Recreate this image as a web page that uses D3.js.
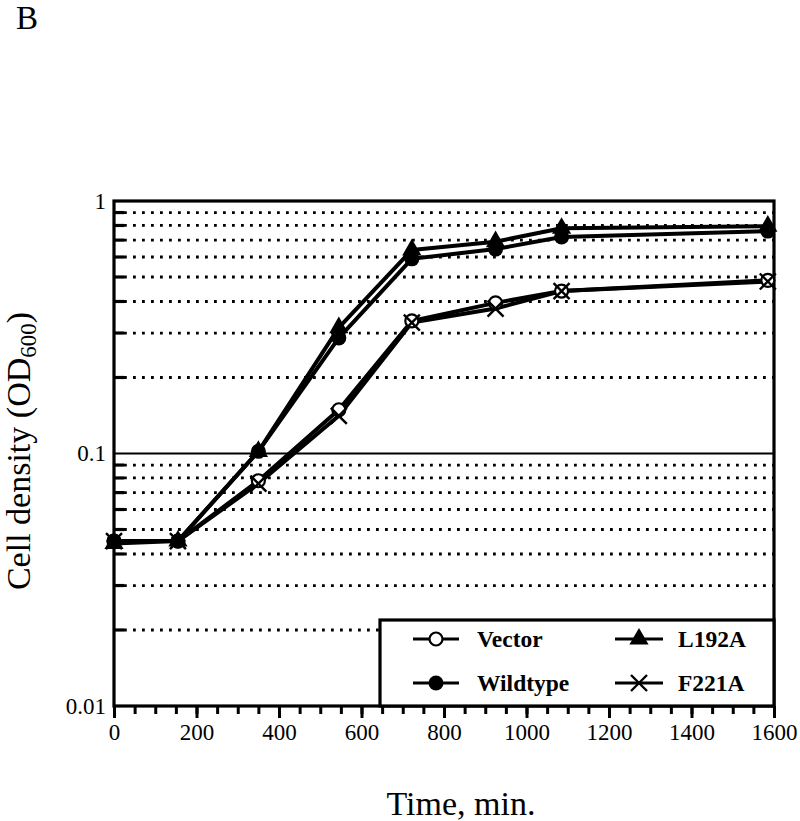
<!DOCTYPE html>
<html>
<head>
<meta charset="utf-8">
<script src="https://cdn.jsdelivr.net/npm/d3@7"></script>
<style>
  html, body { margin: 0; padding: 0; background: #fff; }
  svg { display: block; }
  text { font-family: "Liberation Serif", "Times New Roman", serif; fill: #000; }
</style>
</head>
<body>
<svg id="chart" width="800" height="821"></svg>
<script>
// ---- data ----
const times = [0, 155, 350, 545, 722, 925, 1085, 1585];
const vector   = [0.045, 0.045, 0.078, 0.149, 0.335, 0.395, 0.440, 0.485];
const wildtype = [0.045, 0.045, 0.102, 0.287, 0.590, 0.645, 0.720, 0.760];
const l192a    = [0.044, 0.045, 0.102, 0.315, 0.640, 0.690, 0.780, 0.795];
const f221a    = [0.045, 0.045, 0.076, 0.141, 0.330, 0.375, 0.440, 0.480];
const seriesNames = ["Vector", "Wildtype", "L192A", "F221A"];
const xTickLabels = [0, 200, 400, 600, 800, 1000, 1200, 1400, 1600];
const yTickLabels = [0.01, 0.1, 1];
const yGridValues = [0.02,0.03,0.04,0.05,0.06,0.07,0.08,0.09,0.2,0.3,0.4,0.5,0.6,0.7,0.8,0.9];

const svg = d3.select("#chart");
const X0 = 114, X1 = 774, Y0 = 706, Y1 = 201;
const x = d3.scaleLinear().domain([0, 1600]).range([X0, X1]);
const y = d3.scaleLog().domain([0.01, 1]).range([Y0, Y1]);

// panel label
svg.append("text").attr("x", 16).attr("y", 29).attr("font-size", 33).text("B");

// gridlines
const grid = svg.append("g");
grid.selectAll("line.dot").data(yGridValues).join("line")
  .attr("x1", X0 + 10).attr("x2", X1).attr("y1", d => y(d)).attr("y2", d => y(d))
  .attr("stroke", "#000").attr("stroke-width", 2.8).attr("stroke-dasharray", "2.8,6.2");
grid.selectAll("line.tk").data(yGridValues).join("line")
  .attr("x1", X0).attr("x2", X0 + 10).attr("y1", d => y(d)).attr("y2", d => y(d))
  .attr("stroke", "#000").attr("stroke-width", 3.2);
// solid at 0.1
grid.append("line").attr("x1", X0).attr("x2", X1).attr("y1", y(0.1)).attr("y2", y(0.1))
  .attr("stroke", "#000").attr("stroke-width", 2);

// x axis: minor ticks
const xMinor = d3.range(0, 1601, 50);
svg.append("g").attr("transform", `translate(0,${Y0})`)
  .call(d3.axisBottom(x).tickValues(xMinor).tickSize(8).tickFormat(""))
  .call(g => g.select(".domain").remove())
  .call(g => g.selectAll("line").attr("stroke-width", 3));
svg.append("g").attr("transform", `translate(0,${Y0})`)
  .call(d3.axisBottom(x).tickValues(xTickLabels).tickSize(12).tickPadding(6).tickFormat(d3.format("d")))
  .call(g => g.select(".domain").remove())
  .call(g => g.selectAll("line").attr("stroke-width", 3))
  .call(g => g.selectAll("text").attr("font-size", 23).attr("font-family", "Liberation Serif"));

// y axis labels
svg.append("g").attr("transform", `translate(${X0},0)`)
  .call(d3.axisLeft(y).tickValues(yTickLabels).tickSize(0).tickPadding(8).tickFormat(d => String(d)))
  .call(g => g.select(".domain").remove())
  .call(g => g.selectAll("text").attr("font-size", 23).attr("font-family", "Liberation Serif"));

// frame
svg.append("rect").attr("x", X0).attr("y", Y1).attr("width", X1 - X0).attr("height", Y0 - Y1)
  .attr("fill", "none").attr("stroke", "#000").attr("stroke-width", 3.2);

// axis titles
svg.append("text").attr("x", 461).attr("y", 815).attr("text-anchor", "middle")
  .attr("font-size", 34).text("Time, min.");
const yt = svg.append("text").attr("transform", "translate(30,451) rotate(-90)")
  .attr("text-anchor", "middle").attr("font-size", 34);
yt.append("tspan").text("Cell density (OD");
yt.append("tspan").attr("font-size", 23).attr("dy", 6).text("600");
yt.append("tspan").attr("dy", -6).text(")");

// series
const data = [vector, wildtype, l192a, f221a];
const line = d3.line().x((d, i) => x(times[i])).y(d => y(d));
const plot = svg.append("g");
data.forEach(vals => {
  plot.append("path").datum(vals).attr("d", line)
    .attr("fill", "none").attr("stroke", "#000").attr("stroke-width", 4).attr("stroke-linejoin", "round");
});

function drawMarker(g, kind, cx, cy) {
  if (kind === 0) {
    g.append("circle").attr("cx", cx).attr("cy", cy).attr("r", 6.5)
      .attr("fill", "#fff").attr("stroke", "#000").attr("stroke-width", 2.2);
  } else if (kind === 1) {
    g.append("circle").attr("cx", cx).attr("cy", cy).attr("r", 7.5).attr("fill", "#000");
  } else if (kind === 2) {
    g.append("path").attr("transform", `translate(${cx},${cy})`)
      .attr("d", d3.symbol(d3.symbolTriangle, 160)()).attr("fill", "#000");
  } else {
    g.append("path").attr("d", `M${cx-8},${cy-8}L${cx+8},${cy+8}M${cx-8},${cy+8}L${cx+8},${cy-8}`)
      .attr("stroke", "#000").attr("stroke-width", 2.4).attr("fill", "none");
  }
}
data.forEach((vals, k) => {
  vals.forEach((v, i) => drawMarker(plot, k, x(times[i]), y(v)));
});

// legend
const lg = svg.append("g");
lg.append("rect").attr("x", 380).attr("y", 620).attr("width", X1 - 380).attr("height", Y0 - 620)
  .attr("fill", "#fff").attr("stroke", "#000").attr("stroke-width", 3.2);
const legendPos = [
  {lx1: 413, lx2: 459, ty: 639, tx: 477},
  {lx1: 413, lx2: 459, ty: 683, tx: 477},
  {lx1: 615, lx2: 663, ty: 639, tx: 678},
  {lx1: 615, lx2: 663, ty: 683, tx: 678}
];
seriesNames.forEach((name, k) => {
  const p = legendPos[k];
  lg.append("line").attr("x1", p.lx1).attr("x2", p.lx2).attr("y1", p.ty).attr("y2", p.ty)
    .attr("stroke", "#000").attr("stroke-width", 3);
  drawMarker(lg, k, (p.lx1 + p.lx2) / 2, p.ty);
  lg.append("text").attr("x", p.tx).attr("y", p.ty).attr("dy", "0.35em")
    .attr("font-size", 23.5).attr("font-weight", "bold").text(name);
});
</script>
</body>
</html>
